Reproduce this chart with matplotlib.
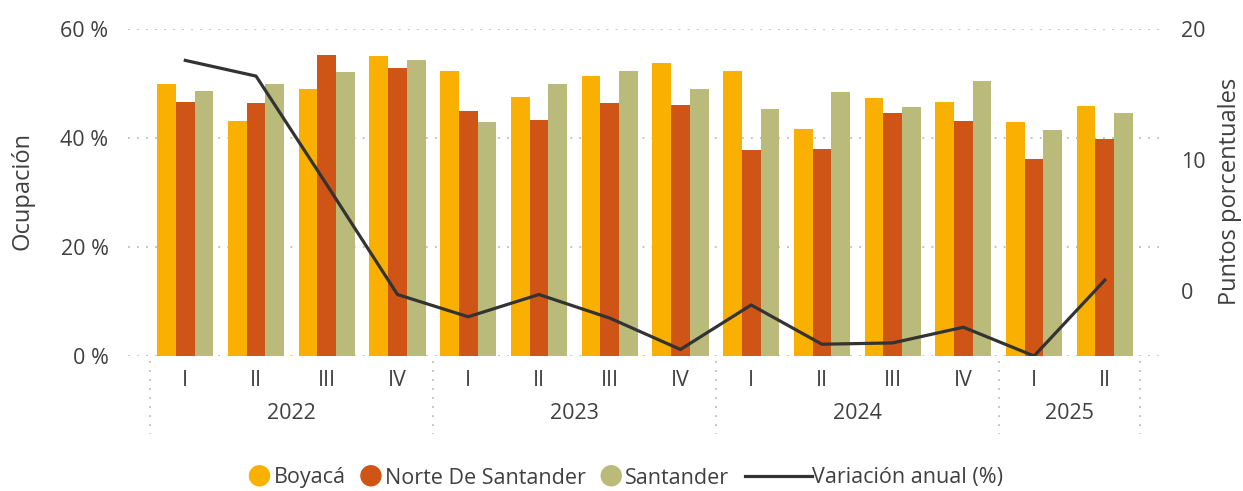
import numpy as np
import matplotlib.pyplot as plt
from matplotlib.lines import Line2D
from matplotlib.patches import Circle
from matplotlib.offsetbox import DrawingArea, TextArea, HPacker, AnchoredOffsetbox
import matplotlib.transforms as mtransforms

plt.rcParams['font.family'] = ['Open Sans', 'DejaVu Sans']

# data
years = ['2022', '2023', '2024', '2025']
quarters = ['I', 'II', 'III', 'IV', 'I', 'II', 'III', 'IV',
            'I', 'II', 'III', 'IV', 'I', 'II']
year_sizes = [4, 4, 4, 2]

boyaca = [49.9, 43.1, 49.0, 55.0, 52.3, 47.5, 51.4, 53.8,
          52.3, 41.7, 47.3, 46.6, 42.9, 45.9]
norte = [46.6, 46.4, 55.2, 52.8, 45.0, 43.3, 46.4, 46.1,
         37.8, 38.0, 44.6, 43.1, 36.1, 39.8]
santander = [48.6, 49.9, 52.1, 54.3, 42.9, 49.9, 52.3, 49.0,
             45.3, 48.4, 45.7, 50.5, 41.5, 44.6]
variacion = [17.6, 16.4, 8.1, -0.3, -2.0, -0.3, -2.1, -4.5,
             -1.1, -4.1, -4.0, -2.8, -5.0, 0.8]

c_boy = '#F9B000'
c_nor = '#CE5515'
c_san = '#BABA7A'
c_line = '#333333'
txt = '#404040'
grid_c = '#BDBDBD'
fs = 15.5

W, H = 1243, 491
fig = plt.figure(figsize=(W / 100, H / 100), dpi=100)
ax = fig.add_axes([128 / W, 135 / H, (1160 - 128) / W, (356 - 29) / H])

x = np.arange(len(quarters))
bw = 0.265
ax.bar(x - bw, boyaca, bw, color=c_boy, zorder=2)
ax.bar(x, norte, bw, color=c_nor, zorder=2)
ax.bar(x + bw, santander, bw, color=c_san, zorder=2)

ax.set_xlim(-0.81, 13.78)
ax.set_ylim(0, 60)
ax.set_yticks([0, 20, 40, 60])
ax.set_yticklabels(['0 %', '20 %', '40 %', '60 %'])
ax.yaxis.grid(True, linestyle=(0, (1, 4)), color=grid_c, linewidth=1.3, zorder=0)
ax.tick_params(axis='y', length=0, pad=14, labelsize=fs, labelcolor=txt)
ax.set_xticks(x)
ax.set_xticklabels(quarters)
ax.tick_params(axis='x', length=0, pad=10, labelsize=fs, labelcolor=txt)
for s in ax.spines.values():
    s.set_visible(False)

# year labels and separators
trans = mtransforms.blended_transform_factory(ax.transData, ax.transAxes)
start = -0.5
bounds = [start]
for yr, n in zip(years, year_sizes):
    ax.text(start + n / 2, -0.175, yr, transform=trans, ha='center', va='center',
            fontsize=fs, color=txt)
    start += n
    bounds.append(start)
for b in bounds:
    ax.plot([b, b], [-0.015, -0.24], transform=trans, color=grid_c,
            linestyle=(0, (1, 4)), linewidth=1.3, clip_on=False)

# line on right axis
ax2 = ax.twinx()
ax2.plot(x, variacion, color=c_line, linewidth=2.3, zorder=3)
ax2.set_ylim(-5, 20)
ax2.set_yticks([0, 10, 20])
ax2.tick_params(axis='y', length=0, pad=15, labelsize=fs, labelcolor=txt)
for s in ax2.spines.values():
    s.set_visible(False)

fig.text(23 / W, 1 - 191 / H, 'Ocupación', rotation=90, ha='center', va='center',
         fontsize=17, color=txt)
fig.text(1230 / W, 1 - 191 / H, 'Puntos porcentuales', rotation=90, ha='center',
         va='center', fontsize=17, color=txt)

# legend (marks sit a little high in their boxes to line up with the caps)
items = []
for col, lab in [(c_boy, 'Boyacá'), (c_nor, 'Norte De Santander'), (c_san, 'Santander')]:
    da = DrawingArea(14.4, 18, 0, 0)
    da.add_artist(Circle((7.2, 10.6), 7.2, color=col))
    ta = TextArea(lab, textprops=dict(fontsize=fs, color=txt))
    items.append(HPacker(children=[da, ta], sep=3, align='center', pad=0))
da = DrawingArea(48, 18, 0, 0)
da.add_artist(Line2D([0, 48], [10.6, 10.6], color=c_line, linewidth=2.3))
ta = TextArea('Variación anual (%)', textprops=dict(fontsize=fs, color=txt))
items.append(HPacker(children=[da, ta], sep=0, align='center', pad=0))
pack = HPacker(children=items, sep=11, align='center', pad=0)
box = AnchoredOffsetbox(loc='center', child=pack, bbox_to_anchor=(626 / W, 1 - 478 / H),
                        bbox_transform=fig.transFigure, frameon=False, pad=0,
                        borderpad=0)
fig.add_artist(box)

fig.savefig('out.png', dpi=100)
